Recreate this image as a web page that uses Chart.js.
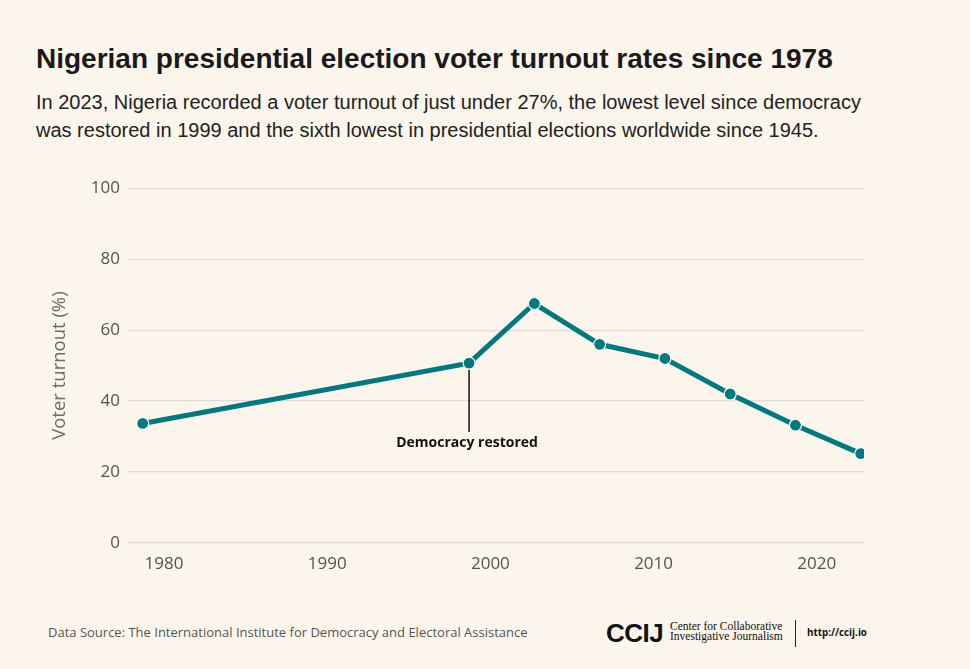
<!DOCTYPE html>
<html>
<head>
<meta charset="utf-8">
<script src="https://cdn.jsdelivr.net/npm/chart.js@4.4.1/dist/chart.umd.min.js"></script>
<style>
  html, body { margin: 0; padding: 0; background: #fcf5ec; }
  body { width: 970px; height: 669px; position: relative; overflow: hidden; }
  #title { position: absolute; left: 36px; top: 43px; font: bold 28px "Liberation Sans", Arial, sans-serif; color: #1a1a1a; white-space: nowrap; }
  #subtitle { position: absolute; left: 36px; top: 89px; font: 20px/27.5px "Liberation Sans", Arial, sans-serif; color: #222; white-space: nowrap; }
  #wrap { position: absolute; left: 0; top: 170px; width: 970px; height: 420px; }
  #source { position: absolute; left: 48px; top: 623px; font: 13px "Open Sans", sans-serif; color: #555; white-space: nowrap; }
  #logo { position: absolute; left: 606px; top: 618px; font: bold 26px "Liberation Sans", Arial, sans-serif; letter-spacing: -0.5px; color: #111; }
  #logotext { position: absolute; left: 670px; top: 621px; font: 11.5px/10px "Liberation Serif", serif; color: #111; white-space: nowrap; }
  #divider { position: absolute; left: 795px; top: 620px; width: 1px; height: 27px; background: #222; }
  #url { position: absolute; left: 807px; top: 626px; font: bold 9.8px "Open Sans", sans-serif; color: #111; }
</style>
</head>
<body>
<div id="title">Nigerian presidential election voter turnout rates since 1978</div>
<div id="subtitle">In 2023, Nigeria recorded a voter turnout of just under 27%, the lowest level since democracy<br>was restored in 1999 and the sixth lowest in presidential elections worldwide since 1945.</div>
<div id="wrap"><canvas id="chart"></canvas></div>
<div id="source">Data Source: The International Institute for Democracy and Electoral Assistance</div>
<div id="logo">CCIJ</div>
<div id="logotext">Center for Collaborative<br>Investigative Journalism</div>
<div id="divider"></div>
<div id="url">http://ccij.io</div>
<script>
// Wahljahre und Wahlbeteiligung (%)
const years = [1979, 1999, 2003, 2007, 2011, 2015, 2019, 2023];
const turnout = [33.7, 50.7, 67.5, 56.0, 52.0, 42.0, 33.2, 25.2];

// Achsenbeschriftungen
const xTicks = [1980, 1990, 2000, 2010, 2020];
const yTicks = [0, 20, 40, 60, 80, 100];

// Anmerkung
const noteYear = 1999;
const noteText = "Democracy restored";

const teal = "#007a80";

// Zeichnet die senkrechte Linie und den Text unter dem Punkt von 1999
const notePlugin = {
    id: "note",
    afterDatasetsDraw(chart) {
        var ctx = chart.ctx,
            xs = chart.scales.x,
            ys = chart.scales.y,
            i = years.indexOf(noteYear),
            px = xs.getPixelForValue(noteYear),
            py = ys.getPixelForValue(turnout[i]);
        ctx.save();
        ctx.strokeStyle = "#111";
        ctx.lineWidth = 1.5;
        ctx.beginPath();
        ctx.moveTo(px, py + 7);
        ctx.lineTo(px, py + 69);
        ctx.stroke();
        ctx.fillStyle = "#111";
        ctx.font = "bold 14px 'Open Sans', sans-serif";
        ctx.textAlign = "center";
        ctx.textBaseline = "middle";
        ctx.fillText(noteText, px - 2, py + 80);
        ctx.restore();
    }
};

new Chart(document.getElementById("chart"), {
    type: "line",
    data: {
        datasets: [{
            data: years.map((y, i) => ({ x: y, y: turnout[i] })),
            borderColor: teal,
            borderWidth: 5,
            pointRadius: 6,
            pointBackgroundColor: teal,
            pointBorderColor: "#ffffff",
            pointBorderWidth: 1.2,
            tension: 0
        }]
    },
    options: {
        responsive: true,
        maintainAspectRatio: false,
        animation: false,
        layout: { padding: { left: 40, right: 106, top: 8, bottom: 0 } },
        plugins: { legend: { display: false }, tooltip: { enabled: false } },
        scales: {
            x: {
                type: "linear",
                min: 1978.1,
                max: 2023.2,
                afterBuildTicks: (s) => { s.ticks = xTicks.map(v => ({ value: v })); },
                afterFit: (s) => { s.height = 47; },
                grid: { display: false },
                border: { display: false },
                ticks: {
                    padding: 3,
                    labelOffset: 5,
                    maxRotation: 0,
                    color: "#57524e",
                    font: { family: "'Open Sans', sans-serif", size: 17 },
                    callback: (v) => String(v)
                }
            },
            y: {
                min: 0,
                max: 100,
                afterBuildTicks: (s) => { s.ticks = yTicks.map(v => ({ value: v })); },
                afterFit: (s) => { s.width = 88; },
                grid: { color: "#e0dbd6", lineWidth: 1.2, drawTicks: false },
                border: { display: false },
                ticks: {
                    padding: 8,
                    color: "#57524e",
                    font: { family: "'Open Sans', sans-serif", size: 17 }
                },
                title: {
                    display: true,
                    text: "Voter turnout (%)",
                    color: "#6f6a65",
                    padding: { top: 9, bottom: 0 },
                    font: { family: "'Open Sans', sans-serif", size: 18.5 }
                }
            }
        }
    },
    plugins: [notePlugin]
});
</script>
</body>
</html>
